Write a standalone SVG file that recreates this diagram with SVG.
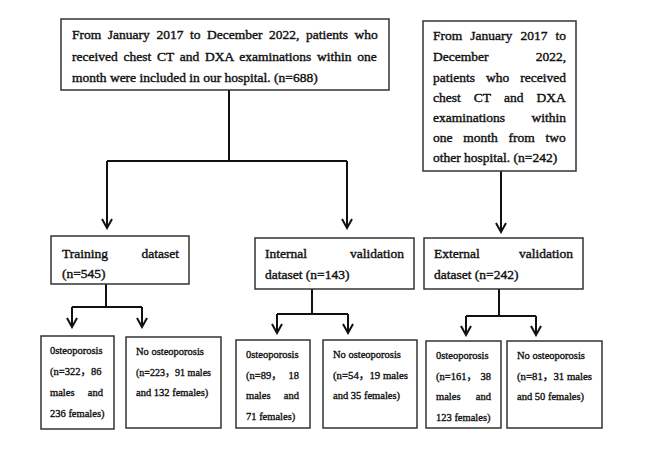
<svg xmlns="http://www.w3.org/2000/svg" width="669" height="459" viewBox="0 0 669 459">
<style>
.box{fill:#fff;stroke:#333;stroke-width:1.5}
.t{font-family:"Liberation Serif","Times New Roman",serif;font-size:13.5px;fill:#111;stroke:#111;stroke-width:0.4}
.s{font-family:"Liberation Serif","Times New Roman","Noto Sans CJK SC",serif;font-size:10.5px;fill:#111;stroke:#111;stroke-width:0.35}
.c{fill:none;stroke:#111;stroke-width:2}
</style>
<defs>
<marker id="ah" markerUnits="userSpaceOnUse" markerWidth="14" markerHeight="14" viewBox="-12 -7 14 14" refX="0" refY="0" orient="auto">
<path d="M-9,-5 L0,0 L-9,5" fill="none" stroke="#111" stroke-width="2"/>
</marker>
</defs>
<rect width="669" height="459" fill="#fff"/>
<g id="connectors">
<path class="c" d="M229,90 V161" stroke-width="3"/>
<path class="c" d="M107,161 H347"/>
<path class="c" d="M107,161 V228" marker-end="url(#ah)"/>
<path class="c" d="M347,161 V228" marker-end="url(#ah)"/>
<path class="c" d="M501,171 V232" marker-end="url(#ah)"/>
<path class="c" d="M106,284 V307 M72,307 H142"/>
<path class="c" d="M72,307 V327" marker-end="url(#ah)"/>
<path class="c" d="M142,307 V327" marker-end="url(#ah)"/>
<path class="c" d="M312,289 V314 M277,314 H348"/>
<path class="c" d="M277,314 V333" marker-end="url(#ah)"/>
<path class="c" d="M348,314 V333" marker-end="url(#ah)"/>
<path class="c" d="M499,289 V316 M466,316 H536"/>
<path class="c" d="M466,316 V335" marker-end="url(#ah)"/>
<path class="c" d="M536,316 V335" marker-end="url(#ah)"/>
</g>
<g id="source-main">
<rect class="box" x="61" y="19" width="328" height="71"/>
<text class="t" x="72" y="39" word-spacing="3.2">From January 2017 to December 2022, patients who</text>
<text class="t" x="72" y="61" word-spacing="2.4">received chest CT and DXA examinations within one</text>
<text class="t" x="72" y="82">month were included in our hospital. (n=688)</text>
</g>
<g id="source-external">
<rect class="box" x="423" y="21" width="153" height="150"/>
<text class="t" x="433" y="40" word-spacing="4.7">From January 2017 to</text>
<text class="t" x="433" y="61">December</text>
<text class="t" x="566" y="61" text-anchor="end">2022,</text>
<text class="t" x="433" y="82" word-spacing="7.6">patients who received</text>
<text class="t" x="433" y="102" word-spacing="9.7">chest CT and DXA</text>
<text class="t" x="433" y="122">examinations</text>
<text class="t" x="566" y="122" text-anchor="end">within</text>
<text class="t" x="433" y="142" word-spacing="7.4">one month from two</text>
<text class="t" x="433" y="162">other hospital. (n=242)</text>
</g>
<g id="training">
<rect class="box" x="51" y="236" width="138" height="48"/>
<text class="t" x="62" y="258">Training</text>
<text class="t" x="179" y="258" text-anchor="end">dataset</text>
<text class="t" x="62" y="278">(n=545)</text>
</g>
<g id="internal">
<rect class="box" x="255" y="238" width="159" height="51"/>
<text class="t" x="265" y="258">Internal</text>
<text class="t" x="404" y="258" text-anchor="end">validation</text>
<text class="t" x="265" y="279">dataset (n=143)</text>
</g>
<g id="external">
<rect class="box" x="424" y="238" width="159" height="51"/>
<text class="t" x="434" y="258">External</text>
<text class="t" x="573" y="258" text-anchor="end">validation</text>
<text class="t" x="434" y="279">dataset (n=242)</text>
</g>
<g id="training-osteo">
<rect class="box" x="41" y="336" width="73" height="93"/>
<text class="s" x="50" y="354">0steoporosis</text>
<text class="s" x="50" y="375">(n=322，86</text>
<text class="s" x="50" y="396">males</text>
<text class="s" x="103" y="396" text-anchor="end">and</text>
<text class="s" x="50" y="417">236 females)</text>
</g>
<g id="training-no">
<rect class="box" x="126" y="337" width="95" height="91"/>
<text class="s" x="136" y="355">No osteoporosis</text>
<text class="s" x="136" y="376" textLength="75" lengthAdjust="spacingAndGlyphs">(n=223，91 males</text>
<text class="s" x="136" y="396">and 132 females)</text>
</g>
<g id="internal-osteo">
<rect class="box" x="236" y="340" width="74" height="88"/>
<text class="s" x="246" y="358">0steoporosis</text>
<text class="s" x="246" y="379">(n=89，</text>
<text class="s" x="299" y="379" text-anchor="end">18</text>
<text class="s" x="246" y="399">males</text>
<text class="s" x="299" y="399" text-anchor="end">and</text>
<text class="s" x="246" y="420">71 females)</text>
</g>
<g id="internal-no">
<rect class="box" x="323" y="340" width="94" height="88"/>
<text class="s" x="333" y="358">No osteoporosis</text>
<text class="s" x="333" y="379" textLength="75" lengthAdjust="spacingAndGlyphs">(n=54，19 males</text>
<text class="s" x="333" y="399">and 35 females)</text>
</g>
<g id="external-osteo">
<rect class="box" x="426" y="341" width="75" height="87"/>
<text class="s" x="436" y="359">0steoporosis</text>
<text class="s" x="436" y="380">(n=161，</text>
<text class="s" x="491" y="380" text-anchor="end">38</text>
<text class="s" x="436" y="400">males</text>
<text class="s" x="491" y="400" text-anchor="end">and</text>
<text class="s" x="436" y="421">123 females)</text>
</g>
<g id="external-no">
<rect class="box" x="507" y="341" width="95" height="87"/>
<text class="s" x="517" y="359">No osteoporosis</text>
<text class="s" x="517" y="380" textLength="75" lengthAdjust="spacingAndGlyphs">(n=81，31 males</text>
<text class="s" x="517" y="400">and 50 females)</text>
</g>
</svg>
